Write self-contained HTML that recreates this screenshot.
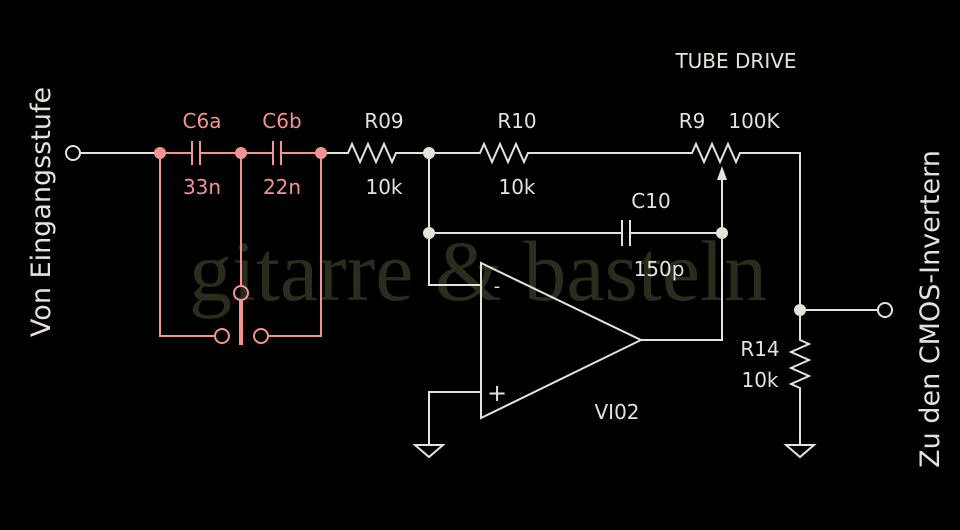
<!DOCTYPE html>
<html><head><style>
body{margin:0;background:#000;width:960px;height:530px;overflow:hidden}
svg{display:block}
text{font-family:"DejaVu Sans","Liberation Sans",sans-serif}
</style></head><body>
<svg width="960" height="530" viewBox="0 0 960 530">
<rect width="960" height="530" fill="#000"/>
<text x="478" y="300" font-size="86" fill="#2c2c1c" text-anchor="middle" style="font-family:'Liberation Serif',serif">gitarre &amp; basteln</text>
<g stroke="#e6e2da" stroke-width="2" fill="none">
<circle cx="73" cy="153" r="7"/>
<path d="M80 153H160"/>
<path d="M321 153H348l4-9 8 18 8-18 8 18 8-18 8 18 4-9H480l4-9 8 18 8-18 8 18 8-18 8 18 4-9H692l4-9 8 18 8-18 8 18 8-18 8 18 4-9H800V310H878"/>
<circle cx="885" cy="310" r="7"/>
<path d="M800 310V340l9 4-18 8 18 8-18 8 18 8-18 8 9 4V445"/>
<path d="M786 445h28l-14 12z"/>
<path d="M429 153V285H481"/>
<path d="M429 233H622M630 233H722V340H641"/>
<path d="M622 220v26M630 220v26"/>
<path d="M722 233V178"/>
<path d="M481 263V418L641 340Z"/>
<path d="M481 392H429V445"/>
<path d="M415 445h28l-14 12z"/>
</g>
<path d="M722 166l-5 14h10z" fill="#e6e2da"/>
<g fill="#e6e2da"><circle cx="429" cy="153" r="6"/><circle cx="429" cy="233" r="6"/><circle cx="722" cy="233" r="6"/><circle cx="800" cy="310" r="6"/></g>
<g stroke="#f49393" stroke-width="2" fill="none">
<path d="M160 153H192M200 153H273M281 153H321"/>
<path d="M192 141v24M200 141v24M273 141v24M281 141v24"/>
<path d="M160 153V336H215"/>
<path d="M321 153V336H268"/>
<path d="M241 153V286"/>
<circle cx="222" cy="336" r="7"/><circle cx="261" cy="336" r="7"/><circle cx="241" cy="293" r="7"/>
<path d="M241 300V345" stroke-width="4"/>
</g>
<g fill="#f49393"><circle cx="160" cy="153" r="6"/><circle cx="241" cy="153" r="6"/><circle cx="321" cy="153" r="6"/></g>
<g fill="#f49393" font-size="20" text-anchor="middle">
<text x="202" y="128">C6a</text><text x="282" y="128">C6b</text>
<text x="202" y="194">33n</text><text x="282" y="194">22n</text>
</g>
<g fill="#e6e2da" font-size="20" text-anchor="middle">
<text x="384" y="128">R09</text><text x="384" y="194">10k</text>
<text x="517" y="128">R10</text><text x="517" y="194">10k</text>
<text x="692" y="128">R9</text><text x="754" y="128">100K</text>
<text x="736" y="68">TUBE DRIVE</text>
<text x="651" y="208">C10</text><text x="659" y="276">150p</text>
<text x="760" y="356">R14</text><text x="760" y="387">10k</text>
<text x="617" y="419">VI02</text>
<text x="497" y="292" font-size="18">-</text>
<text x="497" y="401" font-size="24">+</text>
<text transform="translate(50,212) rotate(-90)" font-size="27">Von Eingangsstufe</text>
<text transform="translate(939,309) rotate(-90)" font-size="27">Zu den CMOS-Invertern</text>
</g>
</svg>
</body></html>
